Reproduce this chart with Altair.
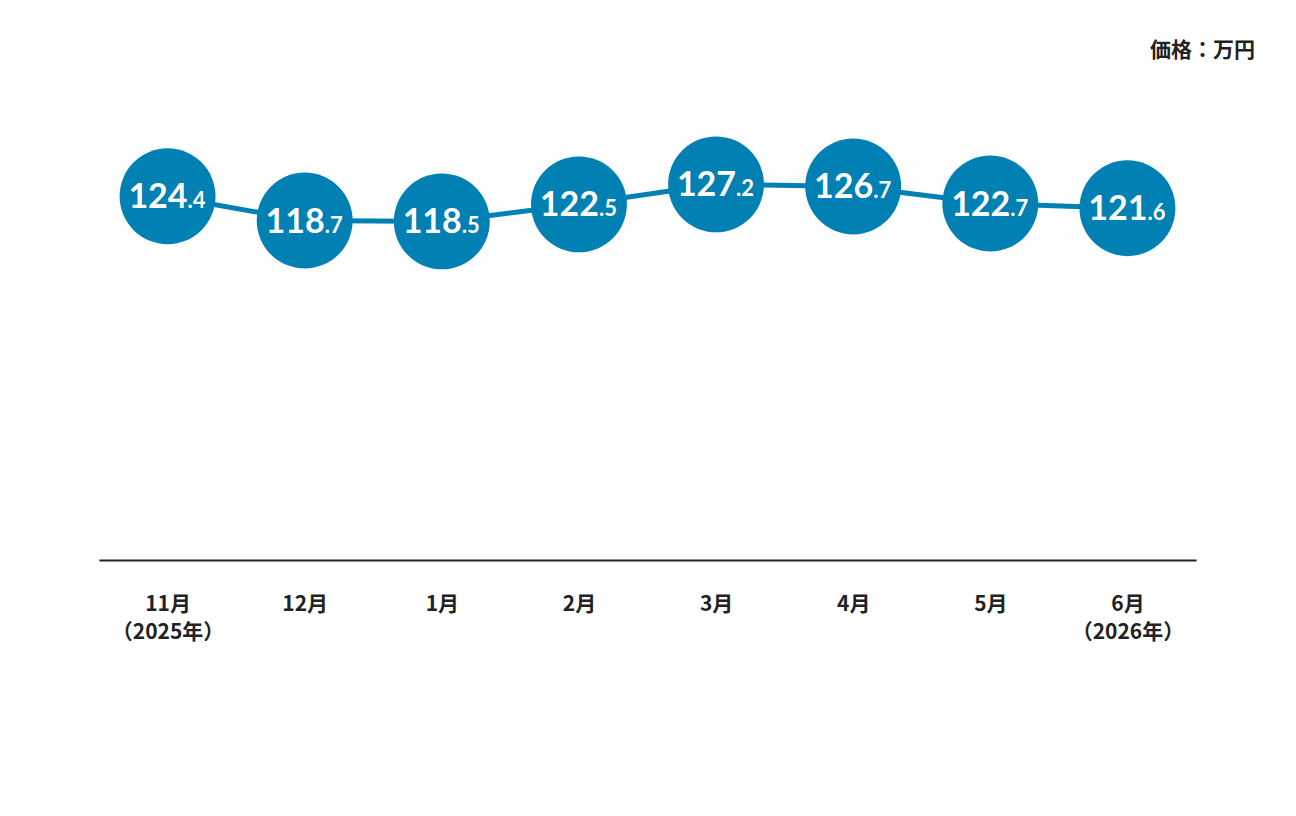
import altair as alt
import pandas as pd

categories = ["11月|（2025年）", "12月", "1月", "2月", "3月", "4月", "5月", "6月|（2026年）"]
values = [124.4, 118.7, 118.5, 122.5, 127.2, 126.7, 122.7, 121.6]
unit_label = "価格：万円"

int_parts = [str(v).split(".")[0] for v in values]
dec_parts = ["." + str(v).split(".")[1] for v in values]

df = pd.DataFrame({"cat": categories, "val": values, "ip": int_parts, "dp": dec_parts})

BLUE = "#0080b3"
W, H = 1097, 460

x = alt.X("cat:N", sort=categories, title=None,
          scale=alt.Scale(type="point", padding=0.5),
          axis=alt.Axis(labelExpr="split(datum.label, '|')", labelAngle=0,
                        labelFont="Noto Sans CJK JP", labelFontWeight="bold",
                        labelFontSize=21, labelColor="#222222", labelLineHeight=28,
                        labelPadding=33, labelBaseline="top",
                        ticks=False, grid=False, domainColor="#222222", domainWidth=2))
y = alt.Y("val:Q", scale=alt.Scale(domain=[39, 147], nice=False, zero=False), axis=None, title=None)

base = alt.Chart(df).encode(x=x, y=y)

line = base.mark_line(color=BLUE, strokeWidth=5)
pts = base.mark_point(filled=True, color=BLUE, opacity=1, size=9200, shape="circle")
t_int = base.mark_text(align="right", baseline="alphabetic", dx=20, dy=12, color="white",
                       font="Lato", fontWeight="bold", fontSize=34).encode(text="ip:N")
t_dec = base.mark_text(align="left", baseline="alphabetic", dx=20, dy=12, color="white",
                       font="Lato", fontWeight="bold", fontSize=22).encode(text="dp:N")

unit = alt.Chart(pd.DataFrame({"t": [unit_label]})).mark_text(
    align="right", baseline="middle", font="Noto Sans CJK JP", fontWeight="bold",
    fontSize=21, color="#222222").encode(
    text="t:N", x=alt.value(1156), y=alt.value(-49))

chart = alt.layer(line, pts, t_int, t_dec, unit).properties(
    width=W, height=H,
    background="white",
    autosize=alt.AutoSizeParams(type="none"),
    padding={"left": 91, "top": 92, "right": 90, "bottom": 200},
).configure_view(stroke=None)

chart.save("out.html", embed_options={"renderer": "svg", "actions": False})
